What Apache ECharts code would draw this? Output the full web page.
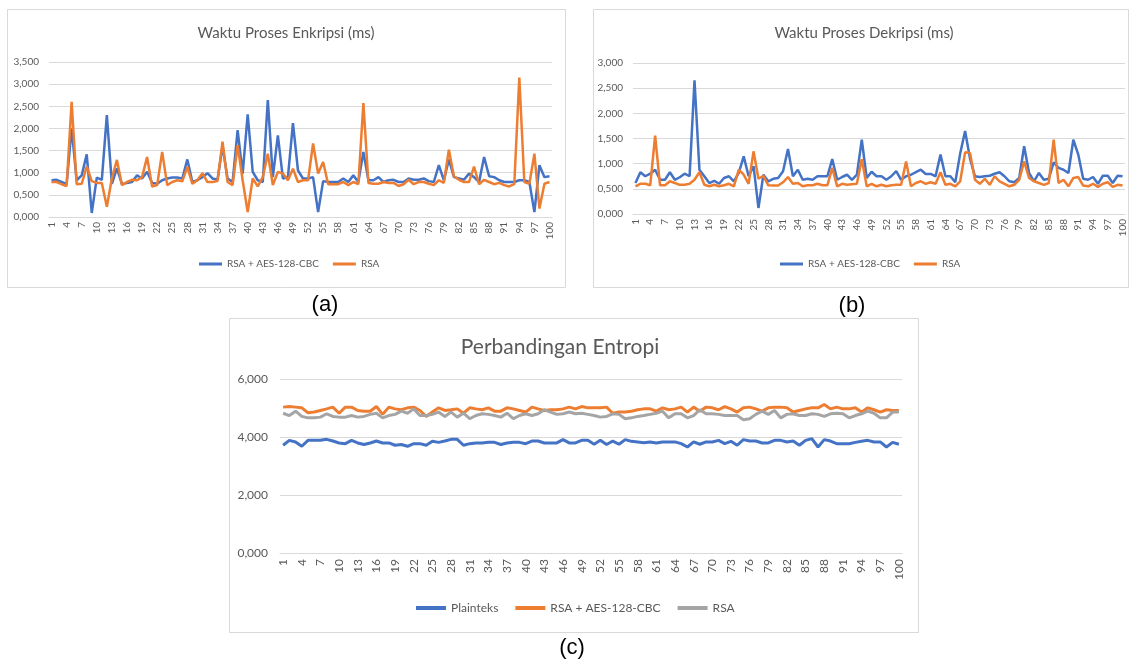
<!DOCTYPE html>
<html>
<head>
<meta charset="utf-8">
<title>Waktu Proses dan Entropi</title>
<script src="https://cdn.jsdelivr.net/npm/echarts@6.0.0/dist/echarts.min.js"></script>
<style>
html,body{margin:0;padding:0;background:#fff;}
#main{width:1129px;height:662px;}
</style>
</head>
<body>
<div id="main"></div>
<script>
// kategori sumbu x (percobaan ke-1 s/d 100)
var kategori = ['1','2','3','4','5','6','7','8','9','10','11','12','13','14','15','16','17','18','19','20',
  '21','22','23','24','25','26','27','28','29','30','31','32','33','34','35','36','37','38','39','40',
  '41','42','43','44','45','46','47','48','49','50','51','52','53','54','55','56','57','58','59','60',
  '61','62','63','64','65','66','67','68','69','70','71','72','73','74','75','76','77','78','79','80',
  '81','82','83','84','85','86','87','88','89','90','91','92','93','94','95','96','97','98','99','100'];

// (a) waktu proses enkripsi
var enkAes = [0.83,0.84,0.79,0.74,2.00,0.83,0.94,1.415,0.09,0.89,
  0.84,2.30,0.75,1.10,0.74,0.77,0.79,0.94,0.87,1.02,
  0.77,0.75,0.83,0.87,0.89,0.89,0.87,1.30,0.79,0.83,
  0.90,0.99,0.87,0.84,1.60,0.87,0.79,1.96,0.98,2.32,
  1.02,0.83,0.79,2.64,0.90,1.845,0.87,0.90,2.12,1.05,
  0.87,0.87,0.90,0.11,0.81,0.79,0.79,0.79,0.87,0.79,
  0.94,0.79,1.47,0.83,0.83,0.90,0.79,0.83,0.84,0.79,
  0.79,0.87,0.84,0.84,0.87,0.81,0.79,1.17,0.83,1.30,
  0.90,0.87,0.84,0.98,0.90,0.79,1.355,0.92,0.90,0.83,
  0.79,0.79,0.79,0.83,0.83,0.79,0.11,1.17,0.90,0.92];
var enkRsa = [0.79,0.79,0.74,0.70,2.60,0.74,0.75,1.14,0.81,0.77,
  0.77,0.23,0.87,1.29,0.72,0.79,0.84,0.83,0.90,1.355,
  0.69,0.72,1.47,0.72,0.79,0.83,0.805,1.13,0.75,0.83,
  0.99,0.79,0.79,0.81,1.70,0.79,0.72,1.62,0.83,0.11,
  0.87,0.69,0.90,1.43,0.72,1.02,0.98,0.83,1.09,0.79,
  0.83,0.83,1.66,0.98,1.24,0.74,0.74,0.74,0.79,0.72,
  0.79,0.74,2.575,0.77,0.75,0.75,0.79,0.77,0.77,0.70,
  0.74,0.84,0.74,0.79,0.79,0.75,0.72,0.83,0.77,1.52,
  0.92,0.84,0.79,0.79,1.14,0.74,0.84,0.79,0.74,0.77,
  0.72,0.69,0.74,3.15,0.79,0.75,1.43,0.19,0.75,0.79];

// (b) waktu proses dekripsi
var dekAes = [0.615,0.83,0.75,0.80,0.88,0.68,0.68,0.83,0.68,0.73,
  0.80,0.75,2.655,0.88,0.75,0.615,0.66,0.60,0.715,0.75,
  0.65,0.815,1.145,0.75,0.95,0.12,0.78,0.65,0.70,0.715,
  0.85,1.29,0.75,0.88,0.68,0.70,0.68,0.75,0.75,0.75,
  1.09,0.68,0.735,0.78,0.68,0.78,1.475,0.715,0.84,0.75,
  0.75,0.68,0.75,0.85,0.68,0.75,0.78,0.83,0.88,0.795,
  0.795,0.75,1.18,0.75,0.75,0.63,1.20,1.65,1.10,0.75,
  0.735,0.75,0.76,0.80,0.83,0.75,0.65,0.63,0.715,1.345,
  0.815,0.65,0.815,0.68,0.70,1.025,0.915,0.88,0.815,1.475,
  1.18,0.70,0.68,0.735,0.60,0.76,0.76,0.615,0.76,0.75];
var dekRsa = [0.55,0.60,0.60,0.57,1.555,0.57,0.57,0.65,0.615,0.58,
  0.58,0.60,0.68,0.83,0.58,0.55,0.58,0.55,0.57,0.60,
  0.55,0.88,0.78,0.60,1.245,0.70,0.76,0.57,0.565,0.565,
  0.63,0.735,0.60,0.615,0.55,0.57,0.57,0.60,0.57,0.57,
  0.915,0.55,0.60,0.58,0.59,0.60,1.09,0.55,0.60,0.55,
  0.58,0.55,0.57,0.58,0.58,1.045,0.55,0.615,0.65,0.60,
  0.63,0.60,0.83,0.58,0.60,0.55,0.65,1.225,1.21,0.68,
  0.60,0.70,0.58,0.75,0.65,0.60,0.55,0.58,0.68,1.045,
  0.715,0.65,0.615,0.58,0.615,1.475,0.615,0.68,0.55,0.715,
  0.735,0.565,0.55,0.60,0.54,0.60,0.63,0.54,0.58,0.565];

// (c) perbandingan entropi
var entPlain = [3.715,3.885,3.830,3.680,3.885,3.885,3.885,3.920,3.860,3.795,
  3.770,3.885,3.795,3.740,3.795,3.860,3.795,3.795,3.715,3.740,
  3.680,3.770,3.770,3.715,3.850,3.815,3.860,3.920,3.920,3.715,
  3.770,3.795,3.795,3.815,3.815,3.740,3.795,3.815,3.815,3.770,
  3.860,3.860,3.795,3.795,3.795,3.910,3.795,3.795,3.885,3.885,
  3.750,3.885,3.740,3.860,3.750,3.910,3.850,3.830,3.805,3.830,
  3.795,3.830,3.830,3.830,3.770,3.655,3.830,3.750,3.830,3.830,
  3.885,3.770,3.850,3.715,3.910,3.860,3.860,3.795,3.795,3.885,
  3.885,3.830,3.860,3.715,3.885,3.945,3.655,3.910,3.860,3.770,
  3.770,3.770,3.815,3.850,3.885,3.830,3.830,3.655,3.815,3.750];
var entAes = [5.030,5.050,5.030,5.005,4.835,4.860,4.915,4.970,5.030,4.820,
  5.030,5.030,4.915,4.890,4.890,5.050,4.780,5.030,4.970,4.940,
  5.005,5.030,4.915,4.710,4.860,5.005,4.915,4.940,4.970,4.820,
  5.005,4.970,4.940,5.005,4.890,4.890,5.005,4.970,4.915,4.860,
  5.030,4.970,4.915,4.940,4.940,4.970,5.030,4.970,5.050,5.005,
  5.005,5.005,5.030,4.820,4.860,4.860,4.890,4.940,4.970,4.970,
  4.890,5.005,4.940,4.970,5.030,4.860,5.030,4.890,5.030,5.005,
  4.940,5.050,4.970,4.860,5.005,5.030,4.970,4.890,5.005,5.030,
  5.030,5.005,4.860,4.915,4.970,5.005,5.005,5.120,4.970,5.030,
  4.970,4.970,5.005,4.860,5.005,4.940,4.860,4.940,4.915,4.915];
var entRsa = [4.820,4.740,4.890,4.710,4.660,4.660,4.685,4.800,4.710,4.685,
  4.685,4.740,4.685,4.710,4.780,4.820,4.660,4.740,4.780,4.890,
  4.820,4.970,4.740,4.740,4.780,4.860,4.710,4.860,4.685,4.820,
  4.630,4.740,4.800,4.780,4.740,4.685,4.820,4.630,4.740,4.800,
  4.740,4.800,4.940,4.860,4.780,4.800,4.860,4.800,4.820,4.780,
  4.740,4.685,4.710,4.800,4.780,4.630,4.660,4.710,4.740,4.780,
  4.820,4.890,4.660,4.800,4.800,4.660,4.740,4.940,4.800,4.800,
  4.780,4.740,4.740,4.740,4.595,4.630,4.780,4.890,4.780,4.915,
  4.660,4.780,4.800,4.740,4.740,4.800,4.780,4.710,4.800,4.820,
  4.800,4.660,4.740,4.800,4.890,4.820,4.660,4.660,4.860,4.860];

var biru = '#4472C4', oranye = '#ED7D31', abu = '#A5A5A5';
var huruf = 'Lato, "Open Sans", sans-serif';
var teksAbu = '#595959';

// format angka gaya Indonesia: 3,500
function formatAngka(v) {
  return v.toFixed(3).replace('.', ',');
}

function sumbuX(idx, size, margin) {
  return {
    type: 'category', gridIndex: idx, data: kategori, boundaryGap: true,
    axisTick: {show: false},
    axisLine: {lineStyle: {color: '#D9D9D9', width: 1}},
    axisLabel: {rotate: 90, interval: 2, fontSize: size, color: teksAbu, margin: margin, fontFamily: huruf}
  };
}

function sumbuY(idx, max, interval, size, margin) {
  return {
    type: 'value', gridIndex: idx, min: 0, max: max, interval: interval,
    axisLine: {show: false}, axisTick: {show: false},
    splitLine: {lineStyle: {color: '#D9D9D9', width: 1}},
    axisLabel: {formatter: formatAngka, fontSize: size, color: teksAbu, margin: margin, fontFamily: huruf}
  };
}

function garis(nama, idx, data, warna, tebal) {
  return {
    name: nama, type: 'line', xAxisIndex: idx, yAxisIndex: idx, data: data,
    symbol: 'none', showSymbol: false, smooth: false, animation: false,
    lineStyle: {color: warna, width: tebal}, itemStyle: {color: warna}
  };
}

function itemLegenda(nama, warna) {
  return {name: nama, icon: 'rect', itemStyle: {color: warna, borderWidth: 0}, lineStyle: {color: warna}};
}

function kotak(x, y, w, h) {
  return {type: 'rect', silent: true, z: -10,
    shape: {x: x + 0.5, y: y + 0.5, width: w, height: h},
    style: {fill: '#fff', stroke: '#D9D9D9', lineWidth: 1}};
}

function judul(teks, x, y, size) {
  return {type: 'text', silent: true, x: x, y: y,
    style: {text: teks, fill: teksAbu, font: size + 'px ' + huruf, textAlign: 'center', textVerticalAlign: 'middle'}};
}

function label(teks, x, y) {
  return {type: 'text', silent: true, x: x, y: y,
    style: {text: teks, fill: '#000', font: '22px "Liberation Sans", Arial, sans-serif', textAlign: 'center', textVerticalAlign: 'middle'}};
}

var chart = echarts.init(document.getElementById('main'));
var option = {
  backgroundColor: '#fff',
  animation: false,
  graphic: [
    kotak(7, 9, 558, 278),
    kotak(593, 9, 535, 278),
    kotak(229, 318, 689, 314),
    judul('Waktu Proses Enkripsi (ms)', 286, 33, 15),
    judul('Waktu Proses Dekripsi (ms)', 864, 33, 15),
    judul('Perbandingan Entropi', 560, 347, 21),
    label('(a)', 325, 305),
    label('(b)', 852, 306),
    label('(c)', 572, 648)
  ],
  grid: [
    {left: 49, top: 62, width: 503, height: 155, outerBoundsMode: 'none'},
    {left: 633, top: 63, width: 492, height: 151, outerBoundsMode: 'none'},
    {left: 280, top: 379, width: 622, height: 174, outerBoundsMode: 'none'}
  ],
  xAxis: [sumbuX(0, 10, 5), sumbuX(1, 10, 5), sumbuX(2, 12, 6)],
  yAxis: [sumbuY(0, 3.5, 0.5, 10, 10), sumbuY(1, 3, 0.5, 10, 10), sumbuY(2, 6, 2, 12, 12)],
  legend: [
    {left: 199, top: 259, padding: 0, itemWidth: 23, itemHeight: 3, itemGap: 14,
      textStyle: {fontSize: 10, color: teksAbu, fontFamily: huruf},
      data: [itemLegenda('RSA + AES-128-CBC', biru), itemLegenda('RSA', oranye)]},
    {left: 780, top: 259, padding: 0, itemWidth: 23, itemHeight: 3, itemGap: 14,
      textStyle: {fontSize: 10, color: teksAbu, fontFamily: huruf},
      data: [itemLegenda('RSA + AES-128-CBC', biru), itemLegenda('RSA', oranye)]},
    {left: 416, top: 602, padding: 0, itemWidth: 30, itemHeight: 4, itemGap: 17,
      textStyle: {fontSize: 12, color: teksAbu, fontFamily: huruf},
      data: [itemLegenda('Plainteks', biru), itemLegenda('RSA + AES-128-CBC', oranye), itemLegenda('RSA', abu)]}
  ],
  series: [
    garis('RSA + AES-128-CBC', 0, enkAes, biru, 2.5),
    garis('RSA', 0, enkRsa, oranye, 2.5),
    garis('RSA + AES-128-CBC', 1, dekAes, biru, 2.5),
    garis('RSA', 1, dekRsa, oranye, 2.5),
    garis('Plainteks', 2, entPlain, biru, 3),
    garis('RSA + AES-128-CBC', 2, entAes, oranye, 3),
    garis('RSA', 2, entRsa, abu, 3)
  ]
};
chart.setOption(option);
</script>
</body>
</html>
